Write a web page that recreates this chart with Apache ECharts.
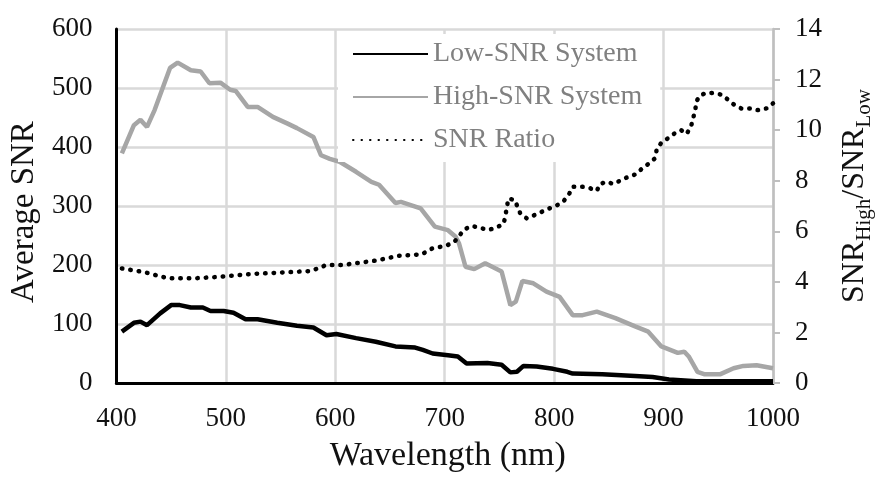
<!DOCTYPE html>
<html>
<head>
<meta charset="utf-8">
<script src="https://cdn.jsdelivr.net/npm/echarts@6/dist/echarts.min.js"></script>
<style>
  html, body { margin: 0; padding: 0; background: #fff; }
  #chart { width: 883px; height: 479px; }
</style>
</head>
<body>
<div id="chart"></div>
<script>
// ---- data ----
const seriesNames = ['Low-SNR System', 'High-SNR System', 'SNR Ratio'];

const lowWl  = [405, 416, 422, 428, 440, 450, 458, 468, 479, 486, 498, 507, 518, 529, 547, 565, 580, 592, 601, 619, 637, 655, 673, 680, 689, 703, 712, 720, 739, 752, 760, 766, 772, 784, 799, 812, 817, 844, 874, 890, 905, 930, 960, 1000];
const lowVal = [87, 102, 104, 98, 118, 132, 132, 128, 128, 122, 122, 119, 108, 108, 102, 97, 94, 81, 83, 76, 70, 62, 60, 56, 50, 47, 45, 33, 34, 31, 18, 19, 29, 28, 24, 19, 16, 15, 12, 10, 6, 3, 3, 3];

const highWl  = [405, 416, 422, 428, 435, 449, 456, 468, 477, 485, 495, 504, 509, 520, 529, 543, 556, 565, 580, 587, 595, 604, 619, 633, 640, 655, 660, 678, 691, 703, 710, 713, 719, 727, 737, 752, 760, 765, 771, 781, 793, 805, 817, 826, 839, 856, 874, 886, 898, 913, 919, 923, 931, 937, 952, 964, 973, 985, 1000];
const highVal = [389, 437, 446, 434, 463, 534, 543, 530, 528, 508, 509, 497, 495, 468, 468, 451, 440, 432, 417, 386, 380, 375, 358, 341, 336, 305, 307, 296, 265, 259, 248, 237, 197, 193, 203, 189, 132, 138, 173, 169, 155, 146, 115, 115, 121, 110, 96, 87, 62, 51, 53, 45, 19, 15, 15, 25, 29, 30, 25];

const ratioWl  = [405, 426, 447, 471, 495, 523, 556, 578, 592, 607, 637, 658, 679, 689, 701, 709, 718, 725, 740, 748, 754, 757, 758, 764, 769, 775, 782, 796, 802, 809, 814, 817, 826, 833, 839, 842, 848, 854, 868, 875, 881, 887, 892, 894, 898, 904, 910, 916, 921, 925, 927, 929, 930, 934, 940, 947, 954, 961, 965, 971, 979, 986, 994, 1000];
const ratioVal = [4.53, 4.38, 4.14, 4.14, 4.20, 4.31, 4.38, 4.43, 4.67, 4.67, 4.84, 5.03, 5.09, 5.33, 5.42, 5.59, 6.08, 6.21, 6.05, 6.16, 6.31, 6.97, 7.29, 7.24, 6.71, 6.51, 6.64, 6.91, 7.01, 7.21, 7.50, 7.76, 7.76, 7.70, 7.60, 7.87, 7.96, 7.87, 8.16, 8.26, 8.51, 8.69, 8.88, 9.28, 9.50, 9.68, 9.87, 10.0, 9.85, 10.13, 10.47, 10.80, 11.15, 11.39, 11.48, 11.46, 11.39, 11.12, 10.99, 10.86, 10.86, 10.79, 10.86, 11.06];

const xTicks = { min: 400, max: 1000, interval: 100 };
const yLeftTicks = { min: 0, max: 600, interval: 100 };
const yRightTicks = { min: 0, max: 14, interval: 2 };

// ---- build ----
const pairs = (xs, ys) => xs.map((x, i) => [x, ys[i]]);
const FONT = 'Liberation Serif';
const GRID = '#d9d9d9';
const INK = '#111111';

const chart = echarts.init(document.getElementById('chart'), null, { renderer: 'canvas' });
chart.setOption({
  animation: false,
  backgroundColor: '#ffffff',
  textStyle: { fontFamily: FONT },
  grid: { left: 114, right: 103, top: 29, bottom: 96, containLabel: false },
  legend: {
    orient: 'vertical',
    left: 338,
    top: 34,
    padding: [6, 18, 8, 14],
    backgroundColor: '#ffffff',
    itemWidth: 75,
    itemHeight: 14,
    itemGap: 15,
    itemStyle: { opacity: 0 },
    textStyle: { fontFamily: FONT, fontSize: 28, color: '#808080' },
    data: seriesNames
  },
  xAxis: {
    type: 'value',
    min: xTicks.min, max: xTicks.max, interval: xTicks.interval,
    name: 'Wavelength (nm)',
    nameLocation: 'middle',
    nameGap: 56,
    nameTextStyle: { fontFamily: FONT, fontSize: 34, color: INK, padding: [0, 0, 0, 6] },
    axisLine: { show: true, onZero: false, lineStyle: { color: '#000', width: 3 } },
    axisTick: { show: false },
    axisLabel: { fontFamily: FONT, fontSize: 27, color: INK, margin: 22, formatter: v => String(v) },
    splitLine: { show: true, lineStyle: { color: GRID, width: 2.5 } }
  },
  yAxis: [
    {
      type: 'value',
      position: 'left',
      min: yLeftTicks.min, max: yLeftTicks.max, interval: yLeftTicks.interval,
      name: 'Average SNR',
      nameLocation: 'middle',
      nameGap: 68,
      nameTextStyle: { fontFamily: FONT, fontSize: 33, color: INK, padding: [0, 12, 0, 0] },
      axisLine: { show: true, lineStyle: { color: '#000', width: 3 } },
      axisTick: { show: false },
      axisLabel: { fontFamily: FONT, fontSize: 27, color: INK, margin: 24, formatter: v => String(v) },
      splitLine: { show: true, lineStyle: { color: GRID, width: 2.5 } }
    },
    {
      type: 'value',
      position: 'right',
      min: yRightTicks.min, max: yRightTicks.max, interval: yRightTicks.interval,
      name: '{m|SNR}{s|High}{m|/SNR}{s|Low}',
      nameLocation: 'middle',
      nameRotate: 90,
      nameGap: 62,
      nameTextStyle: {
        fontFamily: FONT, color: INK,
        padding: [0, 0, 0, 20],
        rich: {
          m: { fontFamily: FONT, fontSize: 32, lineHeight: 40, color: INK, verticalAlign: 'bottom', padding: [0, 0, 4, 0] },
          s: { fontFamily: FONT, fontSize: 21, lineHeight: 21, color: INK, verticalAlign: 'bottom' }
        }
      },
      axisLine: { show: true, lineStyle: { color: '#bfbfbf', width: 2.5 } },
      axisTick: { show: true, inside: false, length: 7, lineStyle: { color: '#bfbfbf', width: 2 } },
      axisLabel: { fontFamily: FONT, fontSize: 27, color: INK, margin: 22 },
      splitLine: { show: false }
    }
  ],
  series: [
    {
      name: seriesNames[0], type: 'line', yAxisIndex: 0, z: 3,
      symbol: 'none', smooth: false,
      lineStyle: { color: '#000000', width: 4.5 },
      itemStyle: { color: '#000000' },
      data: pairs(lowWl, lowVal)
    },
    {
      name: seriesNames[1], type: 'line', yAxisIndex: 0, z: 2,
      symbol: 'none', smooth: false,
      lineStyle: { color: '#a6a6a6', width: 4.5 },
      itemStyle: { color: '#a6a6a6' },
      data: pairs(highWl, highVal)
    },
    {
      name: seriesNames[2], type: 'line', yAxisIndex: 1, z: 4,
      symbol: 'none', smooth: false,
      lineStyle: { color: '#000000', width: 4.5, type: [0.5, 8], cap: 'round' },
      itemStyle: { color: '#000000' },
      data: pairs(ratioWl, ratioVal)
    }
  ]
});
</script>
</body>
</html>
